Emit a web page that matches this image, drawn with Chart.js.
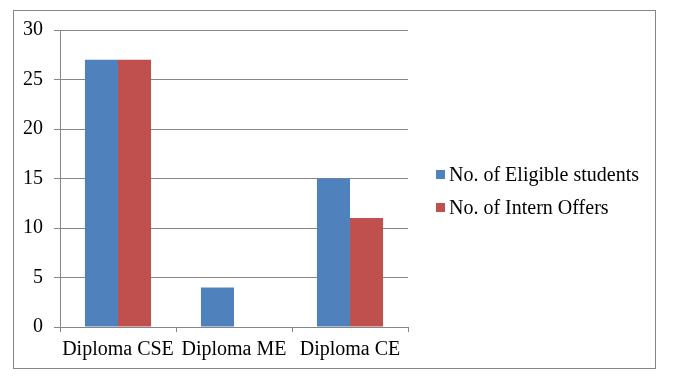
<!DOCTYPE html>
<html>
<head>
<meta charset="utf-8">
<script src="https://cdn.jsdelivr.net/npm/chart.js@4"></script>
<style>
  body { margin: 0; background: #fff; }
  #box { position: absolute; left: 13px; top: 10px; width: 641px; height: 357px; border: 1px solid #868686; }
  #legend { position: absolute; left: 436px; top: 158px; font: 20px 'Liberation Serif', 'Times New Roman', serif; color: #000; }
  #legend .row { display: flex; align-items: center; height: 33px; white-space: nowrap; }
  #legend .sw { width: 9px; height: 9px; margin-right: 4px; }
</style>
</head>
<body>
<div id="box"><canvas id="myChart" width="641" height="357"></canvas></div>
<div id="legend"></div>
<script>
  const categories = ['Diploma CSE', 'Diploma ME', 'Diploma CE'];
  const eligible = [27, 4, 15];
  const offers = [27, 0, 11];
  const seriesNames = ['No. of Eligible students', 'No. of Intern Offers'];
  const seriesColors = ['#4F81BD', '#C0504D'];

  const ctx = document.getElementById('myChart');
  const gray = '#868686';
  const font = { family: "'Liberation Serif', 'Times New Roman', serif", size: 20 };

  const chart = new Chart(ctx, {
    type: 'bar',
    data: {
      labels: categories,
      datasets: [
        {
          label: seriesNames[0],
          data: eligible,
          backgroundColor: seriesColors[0],
          barPercentage: 1,
          categoryPercentage: 0.57
        },
        {
          label: seriesNames[1],
          data: offers,
          backgroundColor: seriesColors[1],
          barPercentage: 1,
          categoryPercentage: 0.57
        }
      ]
    },
    options: {
      responsive: false,
      animation: false,
      layout: { padding: { top: 19, right: 247, bottom: 0, left: 0 } },
      plugins: {
        tooltip: { enabled: false },
        legend: { display: false }
      },
      scales: {
        x: {
          grid: { drawOnChartArea: false, color: gray, tickLength: 5 },
          border: { color: gray },
          ticks: { font: font, color: '#000', padding: 6, minRotation: 0, maxRotation: 0, autoSkip: false }
        },
        y: {
          min: 0,
          max: 30,
          afterFit: function (scale) {
            scale.width = 46;
            scale.paddingTop = 0;
            scale.paddingBottom = 0;
          },
          grid: { color: gray, tickLength: 6 },
          border: { color: gray },
          ticks: { stepSize: 5, font: font, color: '#000', padding: 11 }
        }
      }
    }
  });

  // legend as plain html text, built from the dataset
  const legend = document.getElementById('legend');
  chart.data.datasets.forEach(function (ds) {
    const row = document.createElement('div');
    row.className = 'row';
    const sw = document.createElement('span');
    sw.className = 'sw';
    sw.style.background = ds.backgroundColor;
    const txt = document.createElement('span');
    txt.textContent = ds.label;
    row.appendChild(sw);
    row.appendChild(txt);
    legend.appendChild(row);
  });
</script>
</body>
</html>
